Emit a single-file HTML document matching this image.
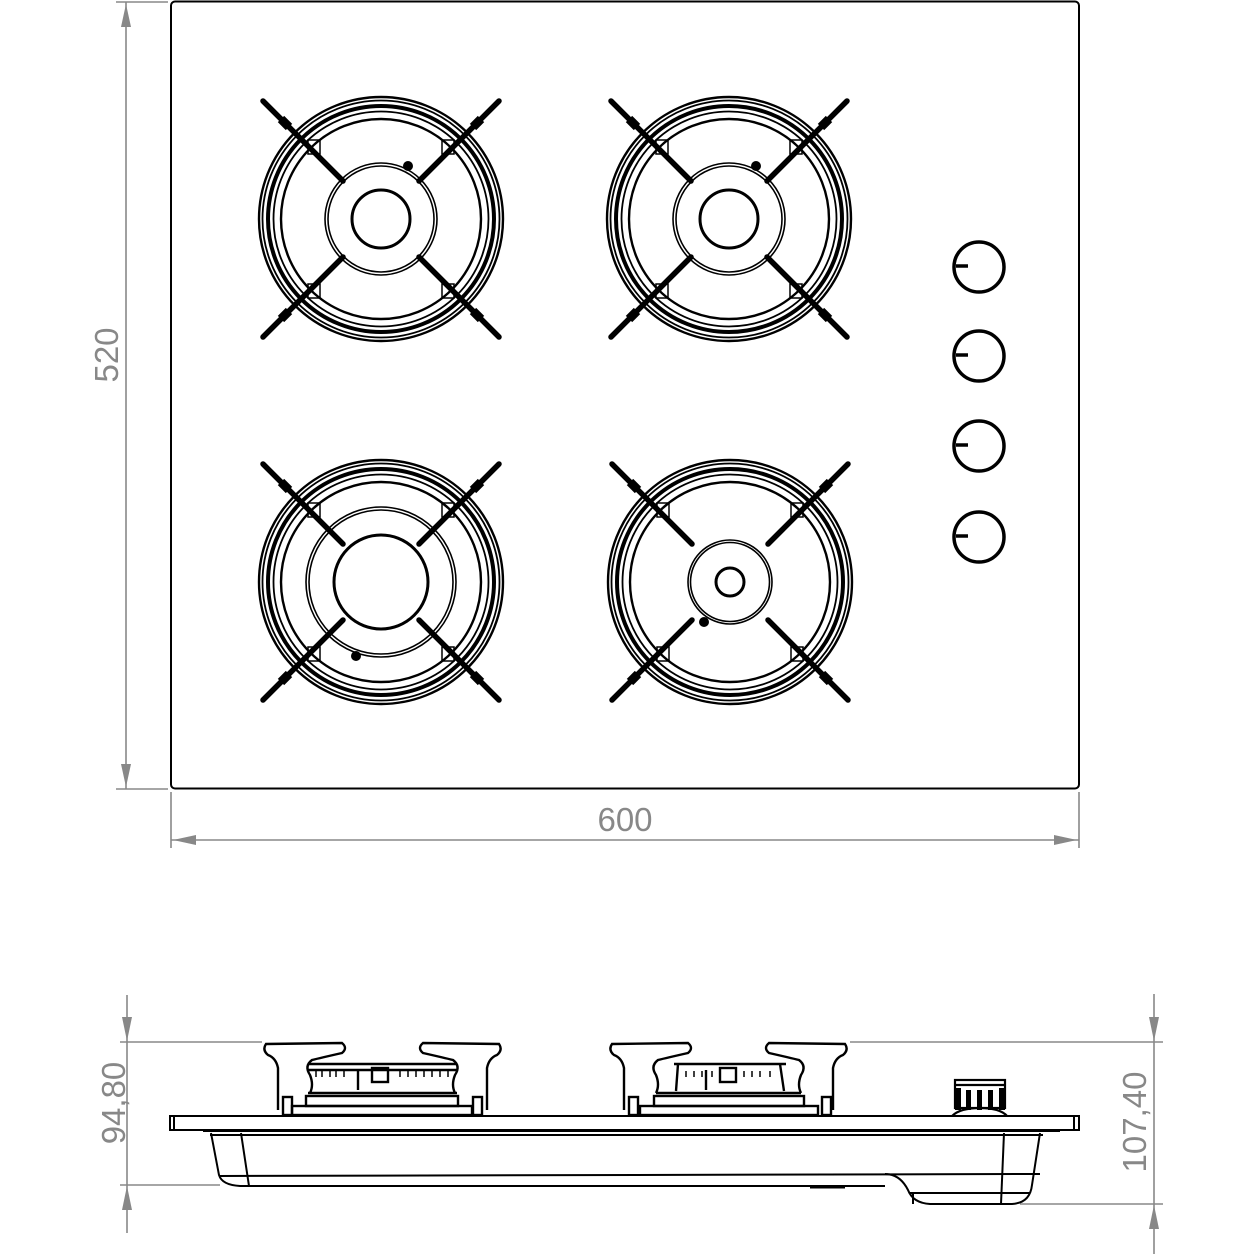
<!DOCTYPE html>
<html><head><meta charset="utf-8"><style>
html,body{margin:0;padding:0;background:#fff;width:1254px;height:1254px;overflow:hidden}
svg{display:block}
.d{stroke:#888;stroke-width:1.6;fill:none}
.t{font-family:"Liberation Sans",sans-serif;font-size:33px;fill:#888}
</style></head><body>
<svg width="1254" height="1254" viewBox="0 0 1254 1254" xmlns="http://www.w3.org/2000/svg">
<defs>
<g id="grate">
  <circle r="122" fill="none" stroke="#000" stroke-width="2.4"/>
  <circle r="118.5" fill="none" stroke="#000" stroke-width="1.8"/>
  <circle r="113" fill="none" stroke="#000" stroke-width="4"/>
  <circle r="107.5" fill="none" stroke="#000" stroke-width="1.8"/>
  <circle r="100" fill="none" stroke="#000" stroke-width="2.4"/>
  <g stroke="#000" stroke-width="5.5" stroke-linecap="round">
    <line x1="-118" y1="-118" x2="-38" y2="-38"/>
    <line x1="118" y1="-118" x2="38" y2="-38"/>
    <line x1="-118" y1="118" x2="-38" y2="38"/>
    <line x1="118" y1="118" x2="38" y2="38"/>
  </g>
  <g stroke="#000" stroke-width="9">
    <line x1="-100" y1="-100" x2="-92" y2="-92"/>
    <line x1="100" y1="-100" x2="92" y2="-92"/>
    <line x1="-100" y1="100" x2="-92" y2="92"/>
    <line x1="100" y1="100" x2="92" y2="92"/>
  </g>
  <g fill="none" stroke="#000" stroke-width="1.5">
    <rect x="-73" y="-79" width="12" height="14"/>
    <rect x="61" y="-79" width="12" height="14"/>
    <rect x="-73" y="65" width="12" height="14"/>
    <rect x="61" y="65" width="12" height="14"/>
  </g>
</g>
</defs>

<rect x="171" y="1.5" width="908" height="787" rx="4" fill="none" stroke="#000" stroke-width="2"/>

<line class="d" x1="126" y1="2" x2="126" y2="789"/>
<line class="d" x1="116" y1="2" x2="168" y2="2"/>
<line class="d" x1="116" y1="789" x2="168" y2="789"/>
<polygon points="126,4 121,27 131,27" fill="#888"/>
<polygon points="126,787 121,764 131,764" fill="#888"/>
<text class="t" transform="translate(118,355) rotate(-90)" text-anchor="middle">520</text>

<line class="d" x1="171" y1="840" x2="1079" y2="840"/>
<line class="d" x1="171" y1="792" x2="171" y2="848"/>
<line class="d" x1="1079" y1="792" x2="1079" y2="848"/>
<polygon points="173,840 196,835 196,845" fill="#888"/>
<polygon points="1077,840 1054,835 1054,845" fill="#888"/>
<text class="t" x="625" y="831" text-anchor="middle">600</text>

<g transform="translate(381,219)">
  <use href="#grate"/>
  <circle r="56" fill="none" stroke="#000" stroke-width="1.6"/>
  <circle r="53" fill="none" stroke="#000" stroke-width="1.6"/>
  <circle r="29" fill="none" stroke="#000" stroke-width="3"/>
  <circle cx="27" cy="-53" r="5" fill="#000"/>
</g>
<g transform="translate(729,219)">
  <use href="#grate"/>
  <circle r="56" fill="none" stroke="#000" stroke-width="1.6"/>
  <circle r="53" fill="none" stroke="#000" stroke-width="1.6"/>
  <circle r="29" fill="none" stroke="#000" stroke-width="3"/>
  <circle cx="27" cy="-53" r="5" fill="#000"/>
</g>
<g transform="translate(381,582)">
  <use href="#grate"/>
  <circle r="75" fill="none" stroke="#000" stroke-width="1.6"/>
  <circle r="72" fill="none" stroke="#000" stroke-width="1.6"/>
  <circle r="47" fill="none" stroke="#000" stroke-width="3"/>
  <circle cx="-25" cy="74" r="5" fill="#000"/>
</g>
<g transform="translate(730,582)">
  <use href="#grate"/>
  <circle r="42" fill="none" stroke="#000" stroke-width="1.6"/>
  <circle r="39.5" fill="none" stroke="#000" stroke-width="1.6"/>
  <circle r="14" fill="none" stroke="#000" stroke-width="3"/>
  <circle cx="-26" cy="40" r="5" fill="#000"/>
</g>

<g fill="none" stroke="#000" stroke-width="3.5">
  <circle cx="979" cy="267" r="25"/><line x1="956" y1="266" x2="968" y2="266"/>
  <circle cx="979" cy="356" r="25"/><line x1="956" y1="355" x2="968" y2="355"/>
  <circle cx="979" cy="446" r="25"/><line x1="956" y1="445" x2="968" y2="445"/>
  <circle cx="979" cy="537" r="25"/><line x1="956" y1="536" x2="968" y2="536"/>
</g>

<line class="d" x1="127" y1="995" x2="127" y2="1233"/>
<line class="d" x1="120" y1="1042" x2="262" y2="1042"/>
<line class="d" x1="120" y1="1185" x2="220" y2="1185"/>
<polygon points="127,1041 122,1017 132,1017" fill="#888"/>
<polygon points="127,1186 122,1210 132,1210" fill="#888"/>
<text class="t" transform="translate(125,1103) rotate(-90)" text-anchor="middle">94,80</text>

<line class="d" x1="1154" y1="994" x2="1154" y2="1254"/>
<line class="d" x1="850" y1="1042" x2="1163" y2="1042"/>
<line class="d" x1="1020" y1="1204" x2="1163" y2="1204"/>
<polygon points="1154,1041 1149,1017 1159,1017" fill="#888"/>
<polygon points="1154,1205 1149,1229 1159,1229" fill="#888"/>
<text class="t" transform="translate(1146,1122) rotate(-90)" text-anchor="middle">107,40</text>

<g fill="none" stroke="#000" stroke-width="2">
  <rect x="170" y="1116" width="909" height="14"/>
  <line x1="174" y1="1116" x2="174" y2="1130"/>
  <line x1="1074" y1="1116" x2="1074" y2="1130"/>
  <line x1="203" y1="1131" x2="1060" y2="1131"/>
  <line x1="210" y1="1135" x2="1043" y2="1135"/>
  <path d="M211,1133 L219,1175 Q222,1185 240,1186 L885,1186"/>
  <line x1="241" y1="1133" x2="249" y2="1186"/>
  <line x1="219" y1="1176" x2="1040" y2="1174"/>
  <path d="M885,1174 Q900,1174 908,1190 Q913,1203 930,1204 L1012,1204 Q1030,1203 1032,1185 L1040,1133"/>
  <line x1="1004" y1="1133" x2="1001" y2="1204"/>
  <line x1="910" y1="1193" x2="1030" y2="1193"/>
  <line x1="913" y1="1193" x2="913" y2="1204"/>
  <line x1="810" y1="1187" x2="845" y2="1187" stroke-width="3"/>
</g>

<g fill="none" stroke="#000" stroke-width="2.4">
  <path d="M278,1110 L278,1068 Q276,1058 268,1055 Q262,1050 266,1044 L342,1043 Q348,1048 342,1053 Q320,1058 312,1060 Q304,1066 310,1075 Q314,1085 310,1093"/>
  <path d="M487,1110 L487,1068 Q489,1058 497,1055 Q503,1050 499,1044 L423,1043 Q417,1048 423,1053 Q445,1058 453,1060 Q461,1066 455,1075 Q451,1085 455,1093"/>
  <line x1="308" y1="1064" x2="457" y2="1064"/>
  <line x1="308" y1="1070" x2="457" y2="1070"/>
  <line x1="308" y1="1093" x2="457" y2="1093"/>
  <rect x="306" y="1096" width="152" height="10"/>
  <rect x="292" y="1106" width="180" height="9"/>
  <rect x="372" y="1068" width="16" height="14"/>
  <line x1="358" y1="1070" x2="358" y2="1090"/>
  <rect x="283" y="1097" width="9" height="18"/>
  <rect x="473" y="1097" width="9" height="18"/>
</g>
<g stroke="#000" stroke-width="1.5">
  <path d="M316,1071 v6 M322,1071 v6 M330,1071 v6 M336,1071 v6 M344,1071 v6 M400,1071 v6 M408,1071 v6 M416,1071 v6 M424,1071 v6 M432,1071 v6 M440,1071 v6 M448,1071 v6"/>
</g>

<g fill="none" stroke="#000" stroke-width="2.4">
  <path d="M624,1110 L624,1068 Q622,1058 614,1055 Q608,1050 612,1044 L688,1043 Q694,1048 688,1053 Q666,1058 658,1060 Q650,1066 656,1075 Q660,1085 656,1093"/>
  <path d="M833,1110 L833,1068 Q835,1058 843,1055 Q849,1050 845,1044 L769,1043 Q763,1048 769,1053 Q791,1058 799,1060 Q807,1066 801,1075 Q797,1085 801,1093"/>
  <path d="M674,1064 L786,1064 M678,1064 L676,1091 M780,1064 L784,1091"/>
  <line x1="656" y1="1093" x2="801" y2="1093"/>
  <rect x="654" y="1096" width="150" height="10"/>
  <rect x="640" y="1106" width="178" height="9"/>
  <rect x="720" y="1068" width="16" height="14"/>
  <line x1="706" y1="1070" x2="706" y2="1090"/>
  <rect x="629" y="1097" width="9" height="18"/>
  <rect x="822" y="1097" width="9" height="18"/>
</g>
<g stroke="#000" stroke-width="1.5">
  <path d="M686,1071 v6 M694,1071 v6 M702,1071 v6 M712,1071 v6 M744,1071 v6 M752,1071 v6 M760,1071 v6 M770,1071 v6"/>
</g>

<g fill="none" stroke="#000" stroke-width="2.2">
  <rect x="955" y="1080" width="50" height="28"/>
  <line x1="955" y1="1085" x2="1005" y2="1085"/>
  <path d="M952,1116 Q960,1108 980,1108 Q1000,1108 1007,1116"/>
</g>
<g fill="#000">
  <rect x="955" y="1088" width="6" height="22"/><rect x="966" y="1090" width="5" height="20"/>
  <rect x="977" y="1090" width="5" height="20"/><rect x="988" y="1090" width="5" height="20"/>
  <rect x="999" y="1088" width="6" height="22"/>
</g>
</svg>
</body></html>
